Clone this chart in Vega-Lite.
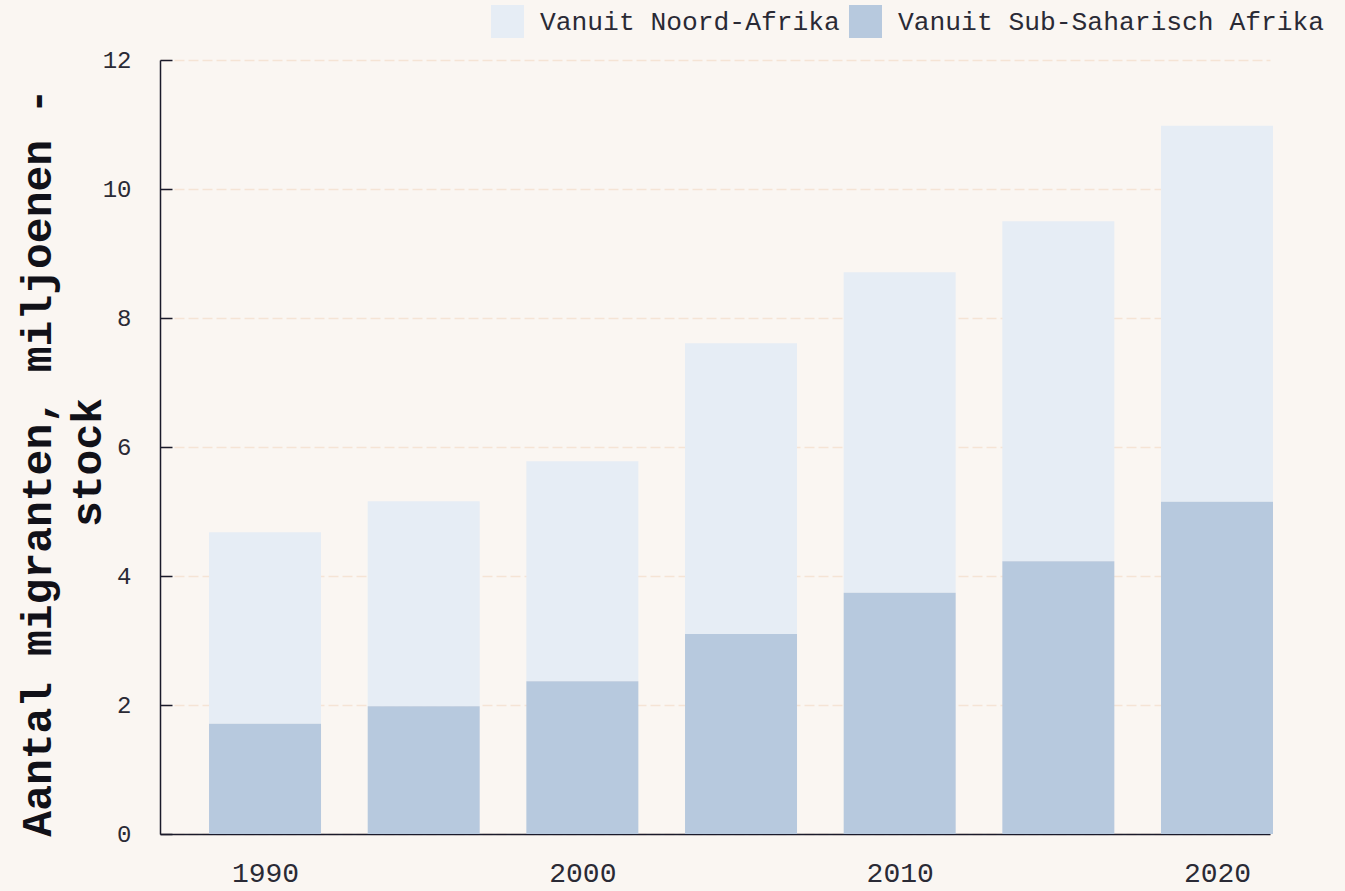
{
  "$schema": "https://vega.github.io/schema/vega-lite/v6.json",
  "width": 1110,
  "height": 774,
  "autosize": {"type": "none"},
  "padding": {"left": 160, "top": 60, "right": 75, "bottom": 57},
  "background": "#FAF6F2",
  "config": {
    "view": {"stroke": null},
    "font": "Liberation Mono"
  },
  "data": {
    "values": [
      {"year": 1990, "region": "Vanuit Noord-Afrika", "value": 2.97},
      {"year": 1995, "region": "Vanuit Noord-Afrika", "value": 3.18},
      {"year": 2000, "region": "Vanuit Noord-Afrika", "value": 3.41},
      {"year": 2005, "region": "Vanuit Noord-Afrika", "value": 4.51},
      {"year": 2010, "region": "Vanuit Noord-Afrika", "value": 4.97},
      {"year": 2015, "region": "Vanuit Noord-Afrika", "value": 5.27},
      {"year": 2020, "region": "Vanuit Noord-Afrika", "value": 5.83},
      {"year": 1990, "region": "Vanuit Sub-Saharisch Afrika", "value": 1.71},
      {"year": 1995, "region": "Vanuit Sub-Saharisch Afrika", "value": 1.98},
      {"year": 2000, "region": "Vanuit Sub-Saharisch Afrika", "value": 2.37},
      {"year": 2005, "region": "Vanuit Sub-Saharisch Afrika", "value": 3.10},
      {"year": 2010, "region": "Vanuit Sub-Saharisch Afrika", "value": 3.74},
      {"year": 2015, "region": "Vanuit Sub-Saharisch Afrika", "value": 4.23},
      {"year": 2020, "region": "Vanuit Sub-Saharisch Afrika", "value": 5.15}
    ]
  },
  "mark": {"type": "bar", "size": 112},
  "encoding": {
    "x": {
      "field": "year",
      "type": "quantitative",
      "scale": {"domain": [1986.69, 2021.67], "nice": false, "zero": false, "padding": 0},
      "axis": {
        "title": null,
        "values": [1990, 2000, 2010, 2020],
        "format": "d",
        "ticks": false,
        "grid": false,
        "domainColor": "#1a1a2a",
        "domainWidth": 1.5,
        "labelFont": "Liberation Mono",
        "labelFontSize": 28,
        "labelColor": "#2a2a35",
        "labelPadding": 25,
        "labelBaseline": "top",
        "labelFlush": false
      }
    },
    "y": {
      "field": "value",
      "type": "quantitative",
      "stack": "zero",
      "scale": {"domain": [0, 12], "nice": false},
      "axis": {
        "values": [0, 2, 4, 6, 8, 10, 12],
        "title": ["Aantal migranten, miljoenen -", "stock"],
        "titleFont": "Liberation Mono",
        "titleFontWeight": "bold",
        "titleFontSize": 43,
        "titleLineHeight": 50,
        "titleColor": "#111118",
        "titleAngle": -90,
        "titleAlign": "center",
        "titleBaseline": "alphabetic",
        "titleX": -110,
        "titleY": 402,
        "domainColor": "#1a1a2a",
        "domainWidth": 1.5,
        "tickColor": "#1a1a2a",
        "tickWidth": 1.5,
        "tickSize": -12,
        "labelFont": "Liberation Mono",
        "labelFontSize": 24,
        "labelColor": "#2a2a35",
        "labelPadding": 41,
        "grid": true,
        "gridColor": "#F5E4D5",
        "gridDash": [10, 4],
        "gridWidth": 1.5
      }
    },
    "color": {
      "field": "region",
      "type": "nominal",
      "scale": {
        "domain": ["Vanuit Noord-Afrika", "Vanuit Sub-Saharisch Afrika"],
        "range": ["#E6EDF5", "#B7C9DE"]
      },
      "legend": {
        "title": null,
        "orient": "none",
        "direction": "horizontal",
        "legendX": 331,
        "legendY": -55,
        "symbolType": "square",
        "symbolSize": 1089,
        "symbolStrokeWidth": 0,
        "labelFont": "Liberation Mono",
        "labelFontSize": 26.3,
        "labelColor": "#2a2a35",
        "labelOffset": 16,
        "columnPadding": 9,
        "labelLimit": 600
      }
    },
    "order": {"field": "region", "sort": "descending"}
  }
}
